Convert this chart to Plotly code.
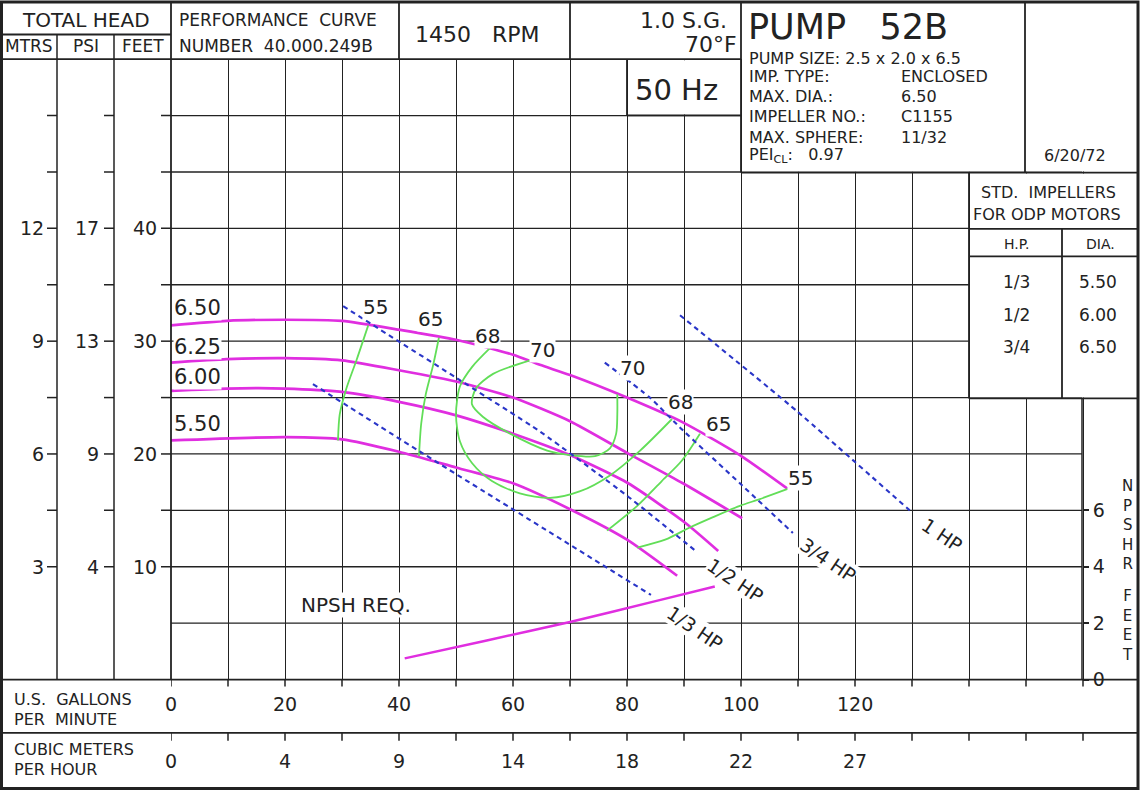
import plotly.graph_objects as go

# ---- values (US GPM vs total head in feet) ----
dia_labels = ["6.50", "6.25", "6.00", "5.50"]
gpm_650 = [0, 9.8, 20, 30, 40.2, 50.2, 60, 64.7, 70, 80, 89.8, 99.8, 108.2]
head_650 = [31.4, 31.8, 31.9, 31.8, 31.0, 30.1, 28.8, 27.9, 27.0, 25.0, 22.8, 19.9, 16.9]
gpm_625 = [0, 9.8, 20, 30, 40.2, 50.2, 60, 70, 80, 89.8, 100.2]
head_625 = [28.1, 28.4, 28.5, 28.3, 27.4, 26.4, 25.0, 22.9, 20.1, 17.4, 14.3]
gpm_600 = [0, 9.8, 20, 30, 40.2, 50.2, 60, 70, 80.2, 90.2, 96]
head_600 = [25.6, 25.8, 25.8, 25.5, 24.6, 23.4, 21.8, 19.9, 17.4, 13.9, 11.4]
gpm_550 = [0, 20, 30, 40, 50, 60, 70, 80, 88.8]
head_550 = [21.2, 21.5, 21.3, 20.2, 18.8, 17.4, 15.1, 12.4, 9.2]

# efficiency contours (%)
eff55a_gpm = [34.6, 32.6, 30.7, 29.6, 29.3]
eff55a_head = [31.4, 28.4, 25.7, 23.5, 21.2]
eff65a_gpm = [47.0, 46.0, 44.7, 43.9, 43.5]
eff65a_head = [30.3, 27.9, 25.3, 22.7, 19.8]
eff68_gpm = [56.0, 52.8, 50.7, 50.0, 50.7, 52.8, 56.3, 61.2, 66.5, 71.8, 77.0, 82.3, 87.9]
eff68_head = [29.4, 27.7, 26.0, 23.5, 21.1, 19.2, 17.6, 16.5, 16.1, 16.7, 18.1, 20.3, 23.1]
eff70_gpm = [63.0, 56.5, 53.5, 52.8, 54.7, 59.5, 66.0, 70.0, 74.4, 77.0, 78.1, 78.3, 78.3]
eff70_head = [28.3, 27.1, 25.8, 24.4, 23.3, 21.8, 20.3, 19.9, 19.8, 20.5, 21.8, 23.5, 25.3]
eff65b_gpm = [92.8, 89.6, 86.1, 81.8, 76.5]
eff65b_head = [21.8, 19.4, 17.6, 15.4, 13.2]
eff55b_gpm = [108.2, 103.3, 99.8, 95.1, 91.1, 86.7, 81.8]
eff55b_head = [16.9, 16.0, 15.4, 14.4, 13.5, 12.4, 11.7]
eff_left_labels = ["55", "65", "68", "70"]
eff_right_labels = ["70", "68", "65", "55"]

# motor power lines
hp_labels = ["1/3 HP", "1/2 HP", "3/4 HP", "1 HP"]
hp13_gpm = [24.9, 43.7, 84.2]
hp13_head = [26.2, 20.2, 7.5]
hp12_gpm = [30.2, 40.2, 50.2, 64.7, 80.0, 92.3]
hp12_head = [33.1, 29.9, 26.7, 22.0, 16.3, 11.3]
hp34_gpm = [76.1, 84.0, 89.8, 99.8, 109.1]
hp34_head = [28.1, 25.0, 22.1, 17.4, 13.0]
hp1_gpm = [89.3, 109.8, 129.6]
hp1_head = [32.3, 23.8, 15.0]

# NPSH required (feet, right scale)
npsh_gpm = [41.0, 55, 70, 85, 95.4]
npsh_ft = [0.75, 1.37, 2.04, 2.78, 3.3]

# scales and tick labels
feet_ticks = [10, 20, 30, 40]
mtrs_labels = ["3", "6", "9", "12"]
psi_labels = ["4", "9", "13", "17"]
feet_labels = ["10", "20", "30", "40"]
head_minor = [10, 15, 20, 25, 30, 35, 40, 45, 50]
gpm_ticks = [0, 20, 40, 60, 80, 100, 120]
cmh_labels = ["0", "4", "9", "14", "18", "22", "27"]
npsh_ticks = [0, 2, 4, 6]
std_hp = ["1/3", "1/2", "3/4"]
std_dia = ["5.50", "6.00", "6.50"]

W, H = 1140, 802
FONT = "DejaVu Sans"
INK = "#222222"
MAG = "#e02ee0"
GRN = "#62de58"
BLU = "#2a36c8"
NB = "\u00a0"


def px(x):
    return x / W


def py(y):
    return (H - y) / H


fig = go.Figure()

# head-capacity curves
for gx, hy in [(gpm_650, head_650), (gpm_625, head_625), (gpm_600, head_600), (gpm_550, head_550)]:
    fig.add_trace(go.Scatter(x=gx, y=hy, mode="lines",
                             line=dict(color=MAG, width=2.7, shape="spline", smoothing=0.6)))

# efficiency lines
for gx, hy in [(eff55a_gpm, eff55a_head), (eff65a_gpm, eff65a_head), (eff68_gpm, eff68_head),
               (eff70_gpm, eff70_head), (eff65b_gpm, eff65b_head), (eff55b_gpm, eff55b_head)]:
    fig.add_trace(go.Scatter(x=gx, y=hy, mode="lines",
                             line=dict(color=GRN, width=1.8, shape="spline", smoothing=0.8)))

# horsepower lines
for gx, hy in [(hp13_gpm, hp13_head), (hp12_gpm, hp12_head), (hp34_gpm, hp34_head), (hp1_gpm, hp1_head)]:
    fig.add_trace(go.Scatter(x=gx, y=hy, mode="lines",
                             line=dict(color=BLU, width=2.1, dash="5px,4px", shape="spline", smoothing=0.5)))

# NPSH required on the right-hand scale
fig.add_trace(go.Scatter(x=npsh_gpm, y=npsh_ft, mode="lines", yaxis="y2",
                         line=dict(color=MAG, width=2.5, shape="spline", smoothing=0.5)))

shapes = []


def line(x0, y0, x1, y1, w=1.8):
    shapes.append(dict(type="line", xref="paper", yref="paper",
                       x0=px(x0), y0=py(y0), x1=px(x1), y1=py(y1),
                       line=dict(color=INK, width=w), layer="above"))


def box(x0, y0, x1, y1):
    shapes.append(dict(type="rect", xref="paper", yref="paper",
                       x0=px(x0), y0=py(y0), x1=px(x1), y1=py(y1),
                       fillcolor="white", line=dict(width=0), layer="above"))


# horizontal grid lines (stop at the NPSH label column)
for v in range(5, 55, 5):
    shapes.append(dict(type="line", xref="paper", yref="y", x0=px(171), x1=px(1082), y0=v, y1=v,
                       line=dict(color=INK, width=1.3), layer="below"))

# white panels over the grid
box(628, 61, 740, 116)
box(742, 3, 1136, 174)
box(970, 176, 1136, 403)

# frame lines
line(0, 35, 171, 35)
line(0, 60, 741, 60)
line(57, 35, 57, 689, 1.5)
line(114, 35, 114, 689, 1.5)
line(171, 3, 171, 689)
line(399, 3, 399, 60)
line(570, 3, 570, 60)
line(741, 3, 741, 175)
line(627, 60, 627, 117)
line(627, 117, 741, 117)
line(741, 175, 1137, 175)
line(1025, 3, 1025, 175)
line(969, 175, 969, 404)
line(969, 232, 1137, 232)
line(969, 260, 1137, 260)
line(1062, 232, 1062, 404)
line(969, 404, 1137, 404)
line(1082, 404, 1082, 689, 1.5)
line(0, 689, 1137, 689)
line(0, 743, 1137, 743)
shapes.append(dict(type="rect", xref="paper", yref="paper", x0=px(1.5), y0=py(2), x1=px(1138), y1=py(799.5),
                   line=dict(color=INK, width=3), layer="above"))

# left-hand scale ticks
for col in [57, 114, 171]:
    for v in head_minor:
        shapes.append(dict(type="line", xref="paper", yref="y", x0=px(col - 10), x1=px(col), y0=v, y1=v,
                           line=dict(color=INK, width=1.5), layer="above"))

# bottom scale ticks
for g in range(0, 161, 10):
    for y0, y1 in [(689, 696), (743, 751)]:
        shapes.append(dict(type="line", xref="x", yref="paper", x0=g, x1=g, y0=py(y0), y1=py(y1),
                           line=dict(color=INK, width=1.5), layer="above"))

ann = []


def txt(s, x, y, size, anchor="center", xref="paper", yref="paper", bg=None, angle=0):
    d = dict(text=s, x=x, y=y, xref=xref, yref=yref, xanchor=anchor, yanchor="middle",
             showarrow=False, textangle=angle, borderpad=0,
             font=dict(family=FONT, size=size, color=INK))
    if xref == "paper":
        d["x"] = px(x)
    if yref == "paper":
        d["y"] = py(y)
    if bg:
        d["bgcolor"] = bg
    ann.append(d)


# header
txt("TOTAL HEAD", 86, 20, 20)
txt("MTRS", 29, 47, 17)
txt("PSI", 86, 47, 17)
txt("FEET", 143, 47, 17)
txt("PERFORMANCE" + NB + " CURVE", 178, 20, 17, "left")
txt("NUMBER" + NB + " 40.000.249B", 178, 47, 17, "left")
txt("1450" + NB + NB + " RPM", 477, 35, 22)
txt("1.0 S.G.", 728, 21, 22, "right")
txt("70°F", 738, 45, 22, "right")
txt("50 Hz", 676, 91, 29)
txt("PUMP" + NB + NB + " 52B", 747, 27, 35, "left")
txt("PUMP SIZE: 2.5 x 2.0 x 6.5", 748, 59, 16, "left")
for s, v, y in [("IMP. TYPE:", "ENCLOSED", 78), ("MAX. DIA.:", "6.50", 98),
                ("IMPELLER NO.:", "C1155", 118), ("MAX. SPHERE:", "11/32", 139)]:
    txt(s, 748, y, 16, "left")
    txt(v, 900, y, 16, "left")
txt("PEI<sub>CL</sub>:" + NB + NB + " 0.97", 748, 158, 16, "left")
txt("6/20/72", 1075, 158, 16)

# standard impeller table
txt("STD." + NB + " IMPELLERS", 1048, 195, 16)
txt("FOR ODP MOTORS", 1047, 217, 16)
txt("H.P.", 1016, 247, 14)
txt("DIA.", 1100, 247, 14)
for i, (hp, dia) in enumerate(zip(std_hp, std_dia)):
    txt(hp, 1016, 286 + 33 * i, 17)
    txt(dia, 1098, 286 + 33 * i, 17)

# left-hand scales
for v, m, p, f in zip(feet_ticks, mtrs_labels, psi_labels, feet_labels):
    txt(m, 45, v, 19, "right", yref="y")
    txt(p, 100, v, 19, "right", yref="y")
    txt(f, 158, v, 19, "right", yref="y")

# bottom scales
txt("U.S." + NB + " GALLONS", 13, 709, 16, "left")
txt("PER" + NB + " MINUTE", 13, 729, 16, "left")
txt("CUBIC METERS", 13, 760, 16, "left")
txt("PER HOUR", 13, 780, 16, "left")
for g, c in zip(gpm_ticks, cmh_labels):
    txt(str(g), g, 714, 19, xref="x")
    txt(c, g, 772, 19, xref="x")

# NPSH axis title
txt("N<br>P<br>S<br>H<br>R", 1127, 532, 15)
txt("F<br>E<br>E<br>T", 1127, 634, 15)

# curve labels
for s, hy in zip(dia_labels, [32.9, 29.5, 26.8, 22.7]):
    txt(s, 0.3, hy, 21, "left", xref="x", yref="y", bg="white")
for s, gx, hy in zip(eff_left_labels, [35.8, 45.6, 55.6, 65.1], [33.0, 32.0, 30.5, 29.2]):
    txt(s, gx, hy, 20, xref="x", yref="y", bg="white")
for s, gx, hy in zip(eff_right_labels, [80.9, 89.3, 96.0, 110.4], [27.65, 24.6, 22.7, 17.9]):
    txt(s, gx, hy, 20, xref="x", yref="y", bg="white")
for s, gx, hy in zip(hp_labels, [91.9, 98.9, 115.3, 135.3], [4.6, 8.8, 10.6, 12.8]):
    txt(s, gx, hy, 19, xref="x", yref="y", bg="white", angle=34)
txt("NPSH REQ.", 32.5, 6.65, 20, xref="x", yref="y", bg="white")

fig.update_layout(
    width=W, height=H,
    margin=dict(l=0, r=0, t=0, b=0),
    paper_bgcolor="white",
    plot_bgcolor="rgba(0,0,0,0)",
    showlegend=False,
    hovermode=False,
    shapes=shapes,
    annotations=ann,
    xaxis=dict(domain=[px(171), px(1137)], range=[0, (1137 - 171) / 5.7], dtick=10, tick0=0,
               showgrid=True, gridcolor=INK, gridwidth=1.3, zeroline=False,
               showticklabels=False, ticks="", showline=False, fixedrange=True),
    yaxis=dict(domain=[py(689), py(60)], range=[0, 55], showgrid=False, zeroline=False,
               showticklabels=False, ticks="", showline=False, fixedrange=True),
    yaxis2=dict(overlaying="y", side="right", anchor="free", position=px(1082), range=[0, 22],
                tickvals=npsh_ticks, ticks="outside", ticklen=6, tickcolor=INK, tickwidth=1.5,
                tickfont=dict(family=FONT, size=19, color=INK),
                showgrid=False, zeroline=False, showline=False, fixedrange=True),
)

fig.write_html("out.html", config={"displayModeBar": False},
               post_script="document.body.style.margin='0';")
